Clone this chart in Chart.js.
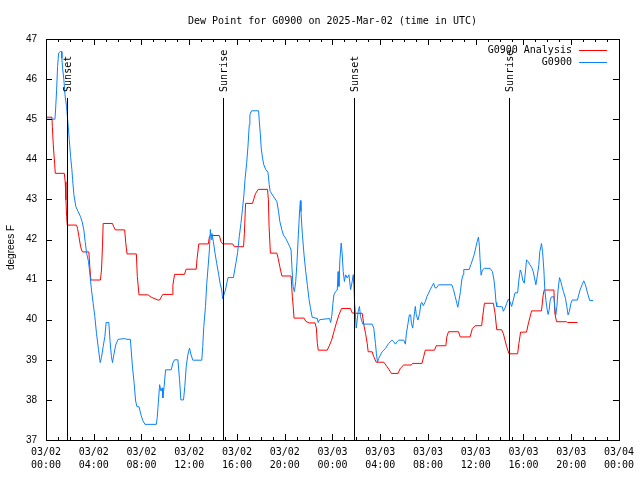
<!DOCTYPE html>
<html lang="en">
<head>
    <meta charset="UTF-8">
    <title>Dew Point for G0900</title>
    <script src="https://cdn.jsdelivr.net/npm/chart.js"></script>
    <style>
        html, body {
            margin: 0;
            padding: 0;
            background: #fff;
        }
        canvas {
            display: block;
        }
    </style>
</head>
<body>
    <canvas id="dewChart" width="640" height="480"></canvas>

    <script>
        // hours since 03/02 00:00 UTC, and dew point in degrees F
        const anaHours = [0, 0.5, 0.53, 0.61, 0.72, 0.78, 1.53, 1.61, 1.67, 1.73, 1.78, 2.56, 2.64, 2.76, 2.9, 2.98, 3.06, 3.59, 3.67, 3.76,
            4.56, 4.65, 4.73, 4.79, 5.57, 5.67, 5.81, 6.59, 6.68, 6.79, 7.57, 7.65, 7.79, 8.54, 8.82, 9.38, 9.51, 9.65, 9.79, 10.57,
            10.63, 10.77, 11.6, 11.74, 12.58, 12.66, 12.8, 13.6, 13.69, 13.74, 14.52, 14.66, 14.8, 15.64, 15.78, 16.55, 16.62, 16.72, 17.3, 17.43,
            17.56, 17.78, 18.56, 18.63, 18.69, 18.8, 19.34, 19.45, 19.59, 19.76, 20.53, 20.64, 20.71, 20.78, 21.62, 21.76, 22.04, 22.54, 22.65, 22.73,
            22.81, 23.56, 23.7, 23.93, 24.12, 24.32, 24.54, 24.76, 25.51, 25.65, 25.88, 26.49, 26.63, 26.77, 26.91, 26.99, 27.32, 27.46, 27.66, 28.3,
            28.57, 28.94, 29.49, 29.69, 29.97, 30.61, 30.71, 31.5, 31.64, 31.78, 32.55, 32.69, 33.5, 33.58, 33.72, 34.56, 34.7, 35.53, 35.72, 35.95,
            36.5, 36.58, 36.73, 37.48, 37.62, 37.76, 38.17, 38.31, 38.59, 38.79, 39.51, 39.62, 39.76, 40.26, 40.4, 40.62, 40.68, 41.51, 41.65, 41.74,
            42.55, 42.63, 42.77, 43.6, 43.68, 44.52];
        const anaValues = [45.05, 45.05, 44.82, 44.36, 43.9, 43.65, 43.65, 43.44, 42.99, 42.57, 42.36, 42.36, 42.28, 42.07, 41.82, 41.74, 41.69, 41.69, 41.32, 40.99,
            40.99, 41.24, 41.82, 42.4, 42.4, 42.32, 42.24, 42.24, 41.92, 41.64, 41.64, 41.08, 40.62, 40.62, 40.56, 40.49, 40.49, 40.56, 40.63, 40.63,
            40.86, 41.13, 41.13, 41.26, 41.26, 41.53, 41.89, 41.89, 42.07, 42.1, 42.1, 41.95, 41.89, 41.89, 41.82, 41.82, 42.15, 42.9, 42.9, 43.03,
            43.15, 43.25, 43.25, 42.99, 42.32, 41.66, 41.66, 41.53, 41.32, 41.09, 41.09, 40.57, 40.32, 40.04, 40.04, 39.96, 39.92, 39.92, 39.79, 39.41,
            39.24, 39.24, 39.33, 39.49, 39.7, 39.91, 40.12, 40.28, 40.28, 40.17, 40.16, 40.16, 39.87, 39.66, 39.41, 39.2, 39.2, 39.08, 38.94, 38.94,
            38.83, 38.66, 38.66, 38.79, 38.87, 38.87, 38.91, 38.91, 39.08, 39.24, 39.24, 39.35, 39.35, 39.57, 39.7, 39.7, 39.57, 39.57, 39.78, 39.85,
            39.85, 40.07, 40.41, 40.41, 40.16, 39.75, 39.75, 39.66, 39.33, 39.15, 39.15, 39.41, 39.69, 39.69, 39.89, 40.15, 40.22, 40.22, 40.61, 40.74,
            40.74, 40.16, 39.95, 39.95, 39.93, 39.93];

        const obsHours = [0, 0.75, 0.8, 0.89, 0.97, 1.06, 1.22, 1.3, 1.33, 1.39, 1.5, 1.59, 1.72, 1.84, 1.95, 2.06, 2.17, 2.23, 2.34, 2.5,
            2.7, 2.89, 3.03, 3.17, 3.28, 3.4, 3.56, 3.67, 3.81, 3.95, 4.09, 4.23, 4.4, 4.54, 4.65, 4.79, 4.93, 5.04, 5.26, 5.37,
            5.48, 5.57, 5.68, 5.84, 6.04, 6.59, 6.79, 7.07, 7.24, 7.38, 7.51, 7.62, 7.79, 7.98, 8.12, 8.29, 9.24, 9.32, 9.41, 9.52,
            9.63, 9.74, 9.79, 9.9, 10.02, 10.49, 10.63, 10.77, 11.05, 11.19, 11.3, 11.52, 11.63, 11.75, 11.88, 12.02, 12.16, 12.3, 13.05, 13.13,
            13.22, 13.36, 13.47, 13.58, 13.69, 13.77, 13.85, 13.9, 14.02, 14.16, 14.3, 14.47, 14.58, 14.72, 14.8, 15.03, 15.25, 15.7, 15.92, 16.05,
            16.19, 16.33, 16.47, 16.58, 16.67, 16.81, 16.92, 17.03, 17.08, 17.22, 17.81, 17.87, 17.95, 18.03, 18.14, 18.25, 18.42, 18.59, 18.7, 18.78,
            18.98, 19.2, 19.34, 19.48, 19.59, 19.76, 19.89, 20.08, 20.28, 20.42, 20.53, 20.61, 20.7, 20.81, 20.92, 21.03, 21.14, 21.25, 21.31, 21.36,
            21.48, 21.62, 21.76, 21.9, 22.04, 22.15, 22.3, 22.73, 22.8, 22.93, 23.75, 23.85, 23.95, 24.04, 24.12, 24.26, 24.4, 24.47, 24.54, 24.62,
            24.73, 24.81, 24.9, 25.0, 25.1, 25.24, 25.38, 25.52, 25.65, 25.74, 25.79, 25.85, 25.9, 25.99, 26.07, 26.15, 26.26, 26.35, 26.43, 26.54,
            27.32, 27.46, 27.6, 27.68, 27.77, 27.88, 28.02, 28.16, 28.43, 28.71, 28.99, 29.13, 29.27, 29.41, 29.55, 29.97, 30.11, 30.19, 30.33, 30.44,
            30.55, 30.61, 30.72, 30.8, 30.88, 30.94, 31.02, 31.16, 31.3, 31.41, 31.5, 31.61, 31.78, 31.92, 32.05, 32.19, 32.33, 32.47, 32.61, 32.75,
            32.89, 34.0, 34.14, 34.28, 34.42, 34.5, 34.61, 34.72, 34.83, 34.94, 35.0, 35.45, 35.59, 35.73, 35.87, 36.0, 36.12, 36.23, 36.31, 36.36,
            36.45, 36.56, 36.73, 37.2, 37.4, 37.53, 37.62, 37.7, 37.76, 38.23, 38.31, 38.46, 38.6, 38.73, 38.87, 39.01, 39.15, 39.29, 39.51, 39.62,
            39.73, 39.84, 39.93, 40.07, 40.18, 40.26, 40.4, 40.54, 40.68, 40.82, 40.96, 41.04, 41.15, 41.29, 41.37, 41.46, 41.51, 41.6, 41.71, 41.79,
            41.88, 41.99, 42.07, 42.15, 42.24, 42.35, 42.55, 42.63, 42.71, 42.8, 42.9, 43.02, 43.13, 43.24, 43.35, 43.52, 43.63, 43.74, 43.85, 43.97,
            44.08, 44.52, 44.63, 44.74, 44.91, 45.05, 45.19, 45.3, 45.41, 45.55, 45.83];
        const obsValues = [45.0, 45.0, 45.23, 45.73, 46.31, 46.65, 46.69, 46.69, 46.52, 46.27, 45.98, 45.61, 45.32, 44.9, 44.49, 44.07, 43.74, 43.49, 43.11, 42.82,
            42.69, 42.57, 42.44, 42.24, 41.95, 41.66, 41.45, 41.16, 40.74, 40.41, 40.08, 39.66, 39.25, 38.93, 39.06, 39.33, 39.58, 39.93, 39.93, 39.45,
            39.08, 38.93, 39.12, 39.37, 39.51, 39.53, 39.51, 39.51, 38.84, 38.43, 37.97, 37.83, 37.83, 37.6, 37.48, 37.39, 37.39, 37.56, 37.93, 38.38,
            38.22, 38.3, 38.05, 38.34, 38.75, 38.75, 38.92, 39.0, 39.0, 38.5, 38.0, 38.0, 38.34, 38.84, 39.12, 39.29, 39.12, 38.99, 38.99, 39.33,
            39.83, 40.33, 40.91, 41.32, 41.74, 42.25, 42.0, 42.15, 41.95, 41.66, 41.41, 41.12, 40.91, 40.74, 40.52, 40.74, 41.05, 41.05, 41.43, 41.67,
            42.07, 42.4, 42.78, 43.11, 43.49, 43.9, 44.32, 44.86, 45.11, 45.21, 45.21, 44.95, 44.65, 44.28, 44.03, 43.86, 43.74, 43.68, 43.37, 43.2,
            43.11, 43.01, 42.95, 42.7, 42.45, 42.24, 42.11, 42.03, 41.91, 41.82, 41.74, 41.28, 40.82, 40.7, 40.95, 41.45, 42.11, 42.74, 42.97, 42.7,
            42.11, 41.61, 41.2, 40.85, 40.5, 40.3, 40.06, 40.03, 39.93, 40.0, 40.03, 39.93, 40.12, 40.41, 40.62, 40.7, 40.74, 41.2, 40.83, 41.49,
            41.91, 41.66, 41.2, 40.95, 41.12, 41.04, 41.12, 40.75, 40.95, 41.12, 40.91, 40.41, 40.24, 39.79, 39.99, 40.2, 40.33, 40.08, 39.99, 39.89,
            39.89, 39.79, 39.41, 39.16, 38.94, 39.04, 39.12, 39.2, 39.28, 39.41, 39.49, 39.45, 39.39, 39.45, 39.49, 39.49, 39.39, 39.66, 39.91, 40.12,
            40.12, 39.91, 39.79, 39.99, 40.2, 40.33, 40.12, 39.99, 40.16, 40.41, 40.43, 40.35, 40.45, 40.58, 40.66, 40.75, 40.83, 40.91, 40.79, 40.8,
            40.87, 40.87, 40.75, 40.58, 40.41, 40.31, 40.5, 40.7, 40.99, 41.12, 41.25, 41.25, 41.37, 41.49, 41.62, 41.79, 41.95, 42.06, 41.83, 41.53,
            41.11, 41.24, 41.28, 41.28, 41.2, 40.99, 40.74, 40.43, 40.33, 40.32, 40.21, 40.29, 40.41, 40.51, 40.45, 40.33, 40.49, 40.67, 40.67, 40.99,
            41.24, 41.16, 40.99, 40.91, 41.24, 41.49, 41.45, 41.37, 41.31, 41.2, 40.99, 40.87, 41.07, 41.37, 41.7, 41.82, 41.9, 41.7, 41.24, 40.74,
            40.49, 40.24, 40.13, 40.24, 40.49, 40.57, 40.57, 40.29, 40.12, 40.33, 40.74, 41.05, 40.95, 40.82, 40.7, 40.53, 40.33, 40.12, 40.21, 40.4,
            40.49, 40.49, 40.62, 40.74, 40.87, 40.97, 40.87, 40.74, 40.62, 40.48, 40.48];

        const sunEvents = ['Sunset', 'Sunrise', 'Sunset', 'Sunrise'];
        const sunHours = [1.75, 14.8, 25.82, 38.76];

        const seriesNames = ['G0900 Analysis', 'G0900'];
        const seriesColors = ['#ff0000', '#0a80ff'];

        const monoFont = '10px "DejaVu Sans Mono", monospace';
        const sansFont = '10px "Liberation Sans", Arial, sans-serif';

        function toPoints(hours, values) {
            return hours.map((h, i) => ({ x: h, y: values[i] }));
        }

        function pad2(n) {
            return String(n).padStart(2, '0');
        }

        // gnuplot style frame: box, inward ticks, sun lines, title, key
        const gnuplotFrame = {
            id: 'gnuplotFrame',
            afterDatasetsDraw(chart) {
                const ctx = chart.ctx;
                const area = chart.chartArea;
                const xs = chart.scales.x;
                const ys = chart.scales.y;

                ctx.save();
                ctx.strokeStyle = '#000';
                ctx.lineWidth = 1;

                // sunrise / sunset markers
                const lineTop = area.bottom - (area.bottom - area.top) * 0.853;
                const labelBase = area.bottom - (area.bottom - area.top) * 0.868;
                sunHours.forEach((h, i) => {
                    const px = Math.round(xs.getPixelForValue(h)) + 0.5;
                    ctx.beginPath();
                    ctx.moveTo(px, lineTop);
                    ctx.lineTo(px, area.bottom);
                    ctx.stroke();

                    ctx.save();
                    ctx.translate(px + 1, labelBase);
                    ctx.rotate(-Math.PI / 2);
                    ctx.font = monoFont;
                    ctx.fillStyle = '#000';
                    ctx.textAlign = 'left';
                    ctx.textBaseline = 'middle';
                    ctx.fillText(sunEvents[i], 0, 0);
                    ctx.restore();
                });

                // border
                ctx.strokeRect(Math.round(area.left) + 0.5, Math.round(area.top) + 0.5,
                    Math.round(area.right - area.left), Math.round(area.bottom - area.top));

                // y ticks on both sides
                ctx.beginPath();
                ys.ticks.forEach(t => {
                    const py = Math.round(ys.getPixelForValue(t.value)) + 0.5;
                    ctx.moveTo(area.left, py);
                    ctx.lineTo(area.left + 6, py);
                    ctx.moveTo(area.right, py);
                    ctx.lineTo(area.right - 6, py);
                });
                // x ticks on top and bottom, longer every 4 hours
                xs.ticks.forEach(t => {
                    const px = Math.round(xs.getPixelForValue(t.value)) + 0.5;
                    const len = t.value % 4 === 0 ? 6 : 3;
                    ctx.moveTo(px, area.bottom);
                    ctx.lineTo(px, area.bottom - len);
                    ctx.moveTo(px, area.top);
                    ctx.lineTo(px, area.top + len);
                });
                ctx.stroke();

                // title
                ctx.fillStyle = '#000';
                ctx.font = monoFont;
                ctx.textAlign = 'center';
                ctx.textBaseline = 'middle';
                ctx.fillText('Dew Point for G0900 on 2025-Mar-02 (time in UTC)', (area.left + area.right) / 2, 21);

                // y axis title
                ctx.save();
                ctx.translate(11, (area.top + area.bottom) / 2 + 8);
                ctx.rotate(-Math.PI / 2);
                ctx.font = sansFont;
                ctx.textAlign = 'center';
                ctx.textBaseline = 'middle';
                ctx.fillText('degrees F', 0, 0);
                ctx.restore();

                // key
                ctx.font = monoFont;
                ctx.textAlign = 'right';
                ctx.textBaseline = 'middle';
                seriesNames.forEach((name, i) => {
                    const ky = area.top + 11 + i * 12;
                    ctx.fillStyle = '#000';
                    ctx.fillText(name, area.right - 47, ky);
                    ctx.strokeStyle = seriesColors[i];
                    ctx.beginPath();
                    ctx.moveTo(area.right - 40, Math.round(ky) + 0.5);
                    ctx.lineTo(area.right - 12, Math.round(ky) + 0.5);
                    ctx.stroke();
                });

                ctx.restore();
            }
        };

        const ctx = document.getElementById('dewChart').getContext('2d');
        const chart = new Chart(ctx, {
            type: 'line',
            data: {
                datasets: [{
                    label: seriesNames[0],
                    data: toPoints(anaHours, anaValues),
                    borderColor: seriesColors[0],
                    borderWidth: 1,
                    pointRadius: 0,
                    fill: false,
                    tension: 0,
                    order: 2
                }, {
                    label: seriesNames[1],
                    data: toPoints(obsHours, obsValues),
                    borderColor: seriesColors[1],
                    borderWidth: 1,
                    pointRadius: 0,
                    fill: false,
                    tension: 0,
                    order: 1
                }]
            },
            options: {
                responsive: false,
                animation: false,
                events: [],
                layout: {
                    padding: { top: 39, right: 19, left: 0, bottom: 0 }
                },
                plugins: {
                    legend: { display: false },
                    title: { display: false },
                    tooltip: { enabled: false }
                },
                scales: {
                    x: {
                        type: 'linear',
                        min: 0,
                        max: 48,
                        afterFit: s => { s.height = 40; },
                        grid: { drawOnChartArea: false, drawTicks: false },
                        border: { display: false },
                        ticks: {
                            stepSize: 1,
                            autoSkip: false,
                            maxRotation: 0,
                            padding: 6,
                            color: '#000',
                            font: { family: '"DejaVu Sans Mono", monospace', size: 10, lineHeight: 1.3 },
                            callback: v => {
                                if (v % 4 !== 0) return '';
                                const day = 2 + Math.floor(v / 24);
                                return ['03/' + pad2(day), pad2(v % 24) + ':00'];
                            }
                        }
                    },
                    y: {
                        min: 37,
                        max: 47,
                        afterFit: s => { s.width = 46; },
                        grid: { drawOnChartArea: false, drawTicks: false },
                        border: { display: false },
                        ticks: {
                            stepSize: 1,
                            padding: 9,
                            color: '#000',
                            font: { family: '"Liberation Sans", Arial, sans-serif', size: 10 }
                        }
                    }
                }
            },
            plugins: [gnuplotFrame]
        });
    </script>
</body>
</html>
